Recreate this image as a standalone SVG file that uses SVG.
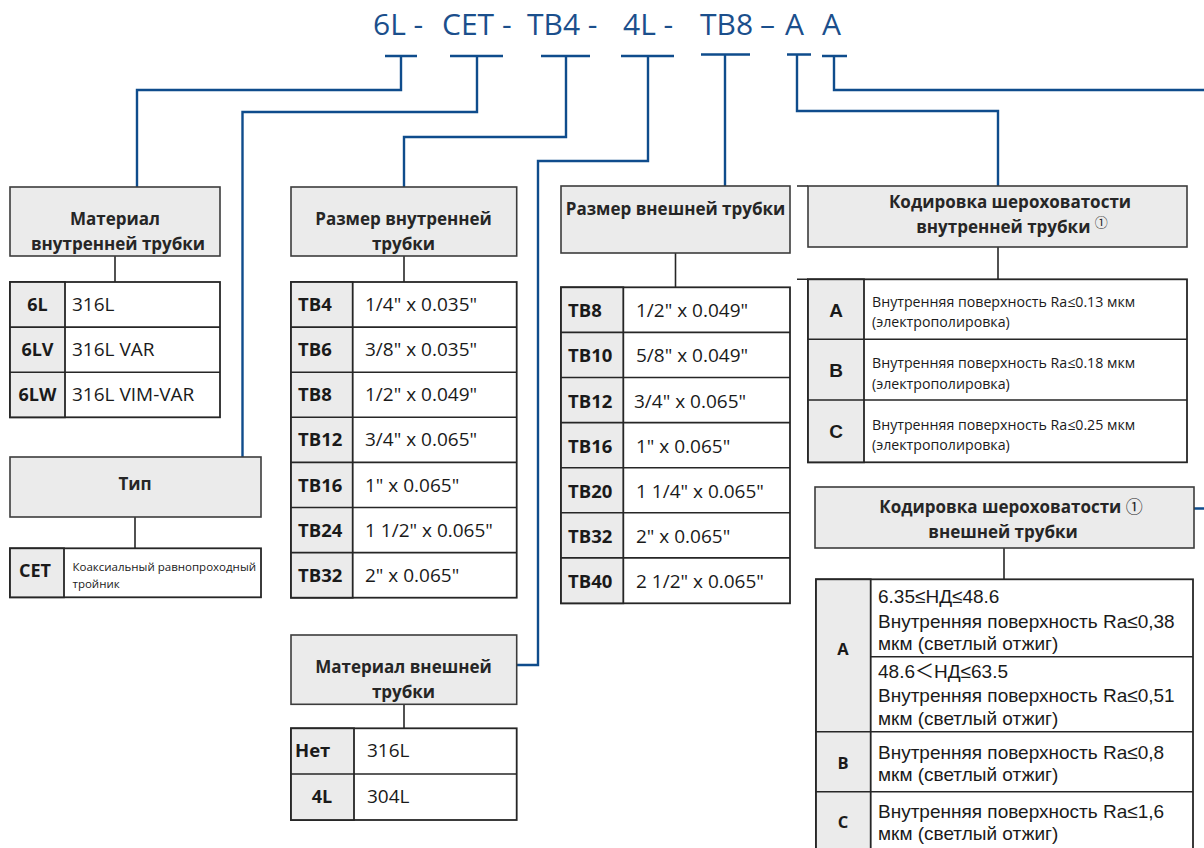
<svg xmlns="http://www.w3.org/2000/svg" width="1204" height="848" viewBox="0 0 1204 848">
<style>
.bg{fill:#ffffff}
.hbox{fill:#ebebeb;stroke:#3c3c3c;stroke-width:1.6}
.tbl{fill:#ffffff;stroke:#262626;stroke-width:1.8}
.kc{fill:#ebebeb;stroke:#262626;stroke-width:1.8}
.ln{fill:none;stroke:#262626;stroke-width:1.6}
.blue{fill:none;stroke:#0f4c8c;stroke-width:2.4}
.title{font-family:"Open Sans","Noto Sans","DejaVu Sans",sans-serif;font-size:30px;fill:#1b4f8c}
.hdr{font-family:"Open Sans","Noto Sans","DejaVu Sans",sans-serif;font-size:17px;font-weight:bold;fill:#262626;text-anchor:middle}
.key{font-family:"Open Sans","Noto Sans","DejaVu Sans",sans-serif;font-size:18.5px;font-weight:bold;fill:#1a1a1a}
.keyc{font-family:"Open Sans","Noto Sans","DejaVu Sans",sans-serif;font-size:18px;font-weight:bold;fill:#1a1a1a;text-anchor:middle}
.keyb{font-family:"Open Sans","Noto Sans","DejaVu Sans",sans-serif;font-size:16.5px;font-weight:bold;fill:#1a1a1a;text-anchor:middle}
.keya{font-family:"Liberation Sans",Arial,sans-serif;font-size:19px;font-weight:bold;fill:#1a1a1a;text-anchor:middle}
.val{font-family:"Open Sans","Noto Sans","DejaVu Sans",sans-serif;font-size:19px;fill:#1a1a1a}
.sm{font-family:"Open Sans","Noto Sans","DejaVu Sans",sans-serif;font-size:11.5px;fill:#1a1a1a}
.desc{font-family:"Open Sans","Noto Sans","DejaVu Sans",sans-serif;font-size:14.2px;fill:#1a1a1a}
.desc2{font-family:"Liberation Sans",Arial,"Noto Sans CJK SC",sans-serif;font-size:19px;fill:#1a1a1a}
.circ{font-family:"Noto Sans CJK SC","DejaVu Sans",sans-serif;font-weight:normal}
</style>
<rect class="bg" x="0" y="0" width="1204" height="848"/>

<g id="code-title">
<text class="title" y="35"><tspan x="373">6L -</tspan><tspan x="442">CET -</tspan><tspan x="527">TB4 -</tspan><tspan x="623">4L -</tspan><tspan x="700">TB8</tspan><tspan x="760">–</tspan><tspan x="785">A</tspan><tspan x="822">A</tspan></text>
</g>

<g id="connectors">
<path class="blue" d="M385,56 H417 M401,56 V90 H137 V187"/>
<path class="blue" d="M450,56 H503 M477,56 V112 H242.5 V457"/>
<path class="blue" d="M541,56 H590 M566,56 V137 H404 V187"/>
<path class="blue" d="M621,56 H674 M648,56 V161 H538 V665 H517"/>
<path class="blue" d="M701,54.5 H750 M725,54.5 V186"/>
<path class="blue" d="M787,54.5 H811 M797,54.5 V111 H998 V186"/>
<path class="blue" d="M822,56 H847 M834,56 V90 H1212 V508.5 H1194"/>
<path class="ln" d="M115,256 V282"/>
<path class="ln" d="M135,517 V548"/>
<path class="ln" d="M404,256 V282"/>
<path class="ln" d="M404,704 V728"/>
<path class="ln" d="M675.5,253 V287"/>
<path class="ln" d="M998,247 V279"/>
<path class="ln" d="M1004,548 V579"/>
</g>

<g id="inner-material">
<rect class="hbox" x="10" y="187" width="210" height="69"/>
<text class="hdr" x="115" y="225">Материал</text>
<text class="hdr" x="118" y="250">внутренней трубки</text>
<rect class="tbl" x="10" y="282" width="210" height="135.3"/>
<rect class="kc" x="10" y="282" width="55" height="135.3"/>
<path class="ln" d="M10,327.1 H220 M10,372.2 H220"/>
<text class="keyc" x="37.5" y="311">6L</text>
<text class="keyc" x="37.5" y="356">6LV</text>
<text class="keyc" x="37.5" y="401">6LW</text>
<text class="val" x="72" y="311">316L</text>
<text class="val" x="72" y="356">316L VAR</text>
<text class="val" x="72" y="401">316L VIM-VAR</text>
</g>

<g id="type">
<rect class="hbox" x="10" y="457" width="251" height="60"/>
<text class="hdr" x="135" y="490">Тип</text>
<rect class="tbl" x="10" y="548.3" width="251" height="49"/>
<rect class="kc" x="10" y="548.3" width="54" height="49"/>
<text class="keyc" x="35" y="577">CET</text>
<text class="sm" x="72.5" y="571">Коаксиальный равнопроходный</text>
<text class="sm" x="72.5" y="588">тройник</text>
</g>

<g id="inner-size">
<rect class="hbox" x="291" y="187" width="225.7" height="69"/>
<text class="hdr" x="403.5" y="225">Размер внутренней</text>
<text class="hdr" x="403.5" y="250">трубки</text>
<rect class="tbl" x="291" y="282" width="225.7" height="315.7"/>
<rect class="kc" x="291" y="282" width="61.7" height="315.7"/>
<path class="ln" d="M291,327.1 H516.7 M291,372.2 H516.7 M291,417.3 H516.7 M291,462.4 H516.7 M291,507.5 H516.7 M291,552.6 H516.7"/>
<text class="key" x="298" y="311">TB4</text>
<text class="key" x="298" y="356">TB6</text>
<text class="key" x="298" y="401">TB8</text>
<text class="key" x="298" y="446">TB12</text>
<text class="key" x="298" y="491.5">TB16</text>
<text class="key" x="298" y="536.5">TB24</text>
<text class="key" x="298" y="581.5">TB32</text>
<text class="val" x="365" y="311">1/4" x 0.035"</text>
<text class="val" x="365" y="356">3/8" x 0.035"</text>
<text class="val" x="365" y="401">1/2" x 0.049"</text>
<text class="val" x="365" y="446">3/4" x 0.065"</text>
<text class="val" x="365" y="491.5">1" x 0.065"</text>
<text class="val" x="365" y="536.5">1 1/2" x 0.065"</text>
<text class="val" x="365" y="581.5">2" x 0.065"</text>
</g>

<g id="outer-material">
<rect class="hbox" x="291" y="635" width="225.7" height="69.3"/>
<text class="hdr" x="403.5" y="673">Материал внешней</text>
<text class="hdr" x="403.5" y="698">трубки</text>
<rect class="tbl" x="291" y="728.3" width="225.7" height="91.7"/>
<rect class="kc" x="291" y="728.3" width="63" height="91.7"/>
<path class="ln" d="M291,774 H516.7"/>
<text class="key" x="295" y="757">Нет</text>
<text class="keyc" x="322" y="803">4L</text>
<text class="val" x="367" y="757">316L</text>
<text class="val" x="367" y="803">304L</text>
</g>

<g id="outer-size">
<rect class="hbox" x="561" y="186" width="229" height="67"/>
<text class="hdr" x="675.5" y="215">Размер внешней трубки</text>
<rect class="tbl" x="561" y="287.3" width="229" height="316"/>
<rect class="kc" x="561" y="287.3" width="62.3" height="316"/>
<path class="ln" d="M561,332.4 H790 M561,377.5 H790 M561,422.6 H790 M561,467.7 H790 M561,512.8 H790 M561,557.9 H790"/>
<text class="key" x="568" y="317.3">TB8</text>
<text class="key" x="568" y="362.4">TB10</text>
<text class="key" x="568" y="407.5">TB12</text>
<text class="key" x="568" y="452.6">TB16</text>
<text class="key" x="568" y="497.7">TB20</text>
<text class="key" x="568" y="542.8">TB32</text>
<text class="key" x="568" y="587.9">TB40</text>
<text class="val" x="636" y="317.3">1/2" x 0.049"</text>
<text class="val" x="636" y="362.4">5/8" x 0.049"</text>
<text class="val" x="634" y="407.5">3/4" x 0.065"</text>
<text class="val" x="636" y="452.6">1" x 0.065"</text>
<text class="val" x="636" y="497.7">1 1/4" x 0.065"</text>
<text class="val" x="636" y="542.8">2" x 0.065"</text>
<text class="val" x="636" y="587.9">2 1/2" x 0.065"</text>
</g>

<g id="inner-roughness">
<path class="ln" d="M797,186 H808 M797,279.3 H808"/>
<rect class="hbox" x="808" y="186" width="379" height="61"/>
<text class="hdr" x="1010" y="208">Кодировка шероховатости</text>
<text class="hdr" x="1012" y="233">внутренней трубки <tspan class="circ" font-size="13px" dy="-6">①</tspan></text>
<rect class="tbl" x="808" y="279.3" width="379" height="183"/>
<rect class="kc" x="808" y="279.3" width="56" height="183"/>
<path class="ln" d="M808,339.3 H1187 M808,400 H1187"/>
<text class="keya" x="836" y="317">A</text>
<text class="keya" x="836" y="377">B</text>
<text class="keya" x="836" y="437.5">C</text>
<text class="desc" x="872" y="306.7">Внутренняя поверхность Ra≤0.13 мкм</text>
<text class="desc" x="872" y="327">(электрополировка)</text>
<text class="desc" x="872" y="368.3">Внутренняя поверхность Ra≤0.18 мкм</text>
<text class="desc" x="872" y="388.5">(электрополировка)</text>
<text class="desc" x="872" y="430">Внутренняя поверхность Ra≤0.25 мкм</text>
<text class="desc" x="872" y="450">(электрополировка)</text>
</g>

<g id="outer-roughness">
<rect class="hbox" x="815" y="487" width="379" height="61"/>
<text class="hdr" x="1011" y="512.7">Кодировка шероховатости <tspan class="circ" font-size="17px">①</tspan></text>
<text class="hdr" x="1003" y="538">внешней трубки</text>
<rect class="tbl" x="816" y="579.3" width="377" height="274"/>
<rect class="kc" x="816" y="579.3" width="54.7" height="274"/>
<path class="ln" d="M870.7,656.7 H1193 M816,731.7 H1193 M816,791.7 H1193"/>
<text class="keyb" x="843" y="655">A</text>
<text class="keyb" x="843" y="769">B</text>
<text class="keyb" x="843" y="828">C</text>
<text class="desc2" x="878" y="602.7">6.35≤НД≤48.6</text>
<text class="desc2" x="878" y="627.5">Внутренняя поверхность Ra≤0,38</text>
<text class="desc2" x="878" y="650">мкм (светлый отжиг)</text>
<text class="desc2" x="878" y="678">48.6<tspan font-family="Noto Sans CJK SC">＜</tspan>НД≤63.5</text>
<text class="desc2" x="878" y="702">Внутренняя поверхность Ra≤0,51</text>
<text class="desc2" x="878" y="724.5">мкм (светлый отжиг)</text>
<text class="desc2" x="878" y="759">Внутренняя поверхность Ra≤0,8</text>
<text class="desc2" x="878" y="781">мкм (светлый отжиг)</text>
<text class="desc2" x="878" y="818">Внутренняя поверхность Ra≤1,6</text>
<text class="desc2" x="878" y="840">мкм (светлый отжиг)</text>
</g>
</svg>
